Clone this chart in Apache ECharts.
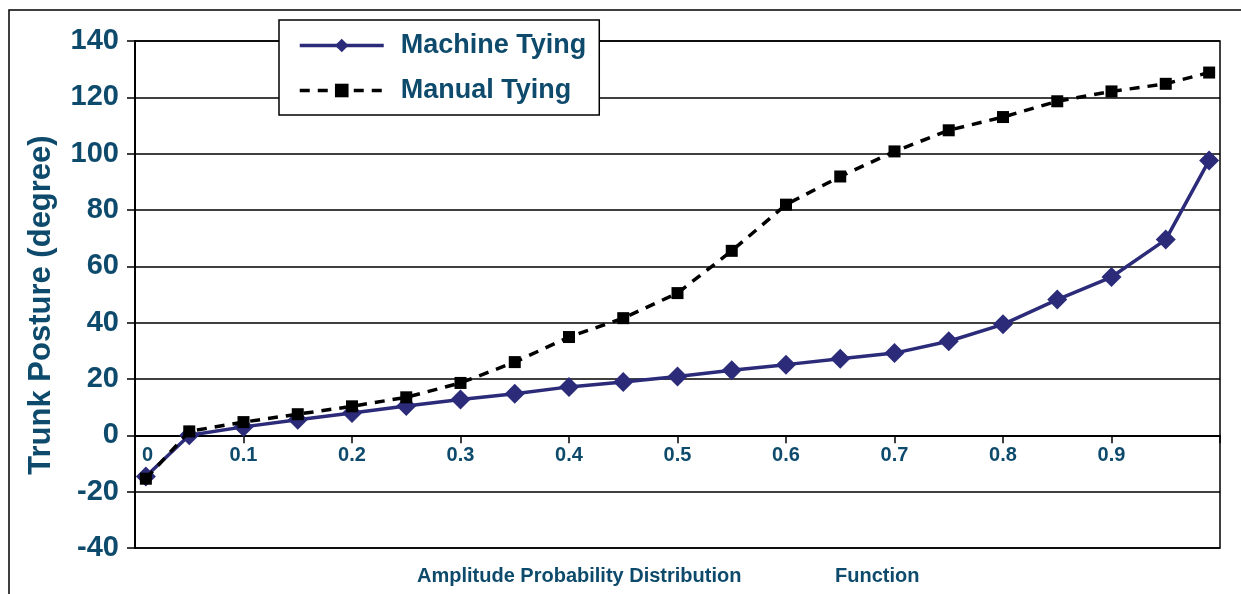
<!DOCTYPE html>
<html>
<head>
<meta charset="utf-8">
<script src="https://cdn.jsdelivr.net/npm/echarts@6/dist/echarts.min.js"></script>
<style>
html,body{margin:0;padding:0;background:#fff;}
#chart{width:1241px;height:594px;}
</style>
</head>
<body>
<div id="chart"></div>
<script>
// Data
var probabilities = [0.01, 0.05, 0.1, 0.15, 0.2, 0.25, 0.3, 0.35, 0.4, 0.45, 0.5, 0.55, 0.6, 0.65, 0.7, 0.75, 0.8, 0.85, 0.9, 0.95, 0.99];
var machineTying = [-14.6, 0, 3.0, 5.5, 7.9, 10.4, 12.7, 14.8, 17.2, 18.9, 20.9, 23.1, 25.1, 27.2, 29.2, 33.4, 39.4, 48.2, 56.2, 69.5, 97.6];
var manualTying = [-15.4, 1.4, 4.7, 7.5, 10.3, 13.5, 18.6, 26.0, 34.9, 41.6, 50.5, 65.5, 81.9, 91.9, 100.8, 108.3, 113.0, 118.6, 122.1, 124.8, 128.8];
var seriesNames = ['Machine Tying', 'Manual Tying'];
var yAxisTitle = 'Trunk Posture (degree)';
var xAxisTitleParts = ['Amplitude Probability Distribution', 'Function'];

var TEXT = '#0e4a6c';
var NAVY = '#2b2b7a';
var FONT = '"Liberation Sans", Arial, Helvetica, sans-serif';

function pairs(xs, ys) { return xs.map(function (x, i) { return [x, ys[i]]; }); }

var chart = echarts.init(document.getElementById('chart'), null, {renderer: 'canvas'});
chart.setOption({
  animation: false,
  backgroundColor: '#fff',
  textStyle: {fontFamily: FONT},
  graphic: [
    {type: 'rect', shape: {x: 9, y: 10, width: 1260, height: 620}, style: {fill: 'none', stroke: '#000', lineWidth: 1.5}, z: -10, silent: true},
    {type: 'text', x: 41, y: 305, rotation: Math.PI / 2,
     style: {text: yAxisTitle, fill: TEXT, font: 'bold 31px ' + FONT, textAlign: 'center', textVerticalAlign: 'middle'}},
    {type: 'text', x: 417, y: 576,
     style: {text: xAxisTitleParts[0], fill: TEXT, font: 'bold 20px ' + FONT, textAlign: 'left', textVerticalAlign: 'middle'}},
    {type: 'text', x: 835, y: 576,
     style: {text: xAxisTitleParts[1], fill: TEXT, font: 'bold 20px ' + FONT, textAlign: 'left', textVerticalAlign: 'middle'}}
  ],
  grid: {left: 135, right: 21, top: 41, bottom: 46, show: true, borderColor: '#000', borderWidth: 1.5},
  legend: {
    orient: 'vertical', left: 279, top: 20,
    data: [
      {name: seriesNames[0], lineStyle: {width: 3.5}},
      {name: seriesNames[1], lineStyle: {width: 3.5}}
    ],
    backgroundColor: '#fff', borderColor: '#000', borderWidth: 1.5,
    padding: [12, 13, 11, 19],
    itemWidth: 84, itemHeight: 17, itemGap: 18,
    textStyle: {color: TEXT, fontSize: 27, fontWeight: 'bold', fontFamily: FONT, padding: [0, 0, 0, 12]}
  },
  xAxis: {
    type: 'value', min: 0, max: 1, interval: 0.1,
    axisLine: {show: true, onZero: true, lineStyle: {color: '#000', width: 2}},
    axisTick: {show: true, length: 8, lineStyle: {color: '#000', width: 1.5}},
    splitLine: {show: false},
    axisLabel: {
      color: TEXT, fontSize: 20, fontWeight: 'bold', fontFamily: FONT, margin: -103,
      formatter: function (v) {
        if (v >= 0.999) return '';
        if (v === 0) return '{z|0}';
        return v.toFixed(1);
      },
      rich: {z: {color: TEXT, fontSize: 20, fontWeight: 'bold', fontFamily: FONT, padding: [0, 0, 0, 25]}}
    }
  },
  yAxis: {
    type: 'value', min: -40, max: 140, interval: 20,
    axisLine: {show: true, lineStyle: {color: '#000', width: 2}},
    axisTick: {show: true, length: 8, lineStyle: {color: '#000', width: 1.5}},
    splitLine: {show: true, lineStyle: {color: '#000', width: 1.5}},
    axisLabel: {color: TEXT, fontSize: 29, fontWeight: 'bold', fontFamily: FONT, margin: 16}
  },
  series: [
    {
      name: seriesNames[0], type: 'line', data: pairs(probabilities, machineTying),
      symbol: 'diamond', symbolSize: 20,
      lineStyle: {color: NAVY, width: 3.5},
      itemStyle: {color: NAVY},
      z: 3
    },
    {
      name: seriesNames[1], type: 'line', data: pairs(probabilities, manualTying),
      symbol: 'rect', symbolSize: 12,
      lineStyle: {color: '#000', width: 3.5, type: [10, 8]},
      itemStyle: {color: '#000'},
      z: 4
    }
  ]
});
</script>
</body>
</html>
